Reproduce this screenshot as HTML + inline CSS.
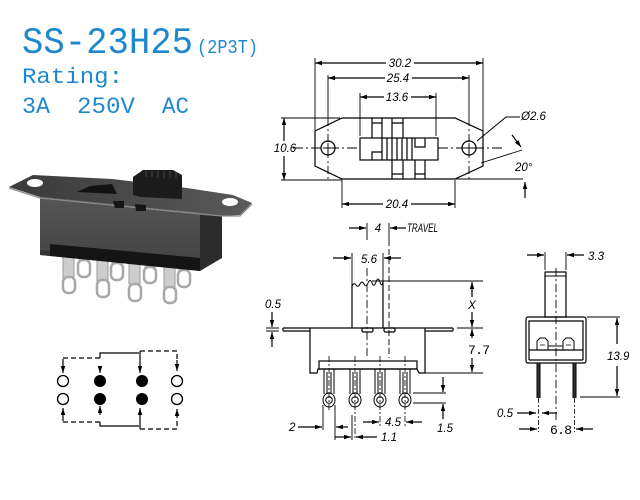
<!DOCTYPE html>
<html><head><meta charset="utf-8"><style>
html,body{margin:0;padding:0;background:#fff;}
svg{display:block;}
.d{font-family:"Liberation Sans",sans-serif;font-style:italic;font-size:11.5px;fill:#000;}
.m{font-family:"Liberation Mono",monospace;font-size:13px;fill:#000;}
.b{font-family:"Liberation Mono",monospace;fill:#1e88cf;}
</style></head><body>
<svg width="640" height="500" viewBox="0 0 640 500" xmlns="http://www.w3.org/2000/svg">
<defs>
<marker id="a" markerUnits="userSpaceOnUse" markerWidth="8" markerHeight="5" refX="7" refY="2.25" orient="auto-start-reverse"><path d="M0,0 L7,2.25 L0,4.5 z" fill="#000"/></marker>
<linearGradient id="gp" x1="0" y1="0" x2="1" y2="0"><stop offset="0" stop-color="#3a3a3a"/><stop offset="1" stop-color="#5a5a5a"/></linearGradient>
<linearGradient id="gf" x1="0" y1="0" x2="0" y2="1"><stop offset="0" stop-color="#555"/><stop offset="1" stop-color="#424242"/></linearGradient>
</defs>
<rect width="640" height="500" fill="#fff"/>

<!-- Title -->
<text class="b" x="22" y="53" font-size="37" textLength="171" lengthAdjust="spacingAndGlyphs">SS-23H25</text>
<text class="b" x="197" y="53" font-size="19" textLength="61" lengthAdjust="spacingAndGlyphs">(2P3T)</text>
<text class="b" x="22" y="83" font-size="22" textLength="101" lengthAdjust="spacingAndGlyphs">Rating:</text>
<text class="b" x="22" y="113" font-size="23" textLength="28" lengthAdjust="spacingAndGlyphs">3A</text>
<text class="b" x="77" y="113" font-size="23" textLength="58" lengthAdjust="spacingAndGlyphs">250V</text>
<text class="b" x="162" y="113" font-size="23" textLength="27" lengthAdjust="spacingAndGlyphs">AC</text>

<!-- Photo -->
<g stroke="#9a9a9a" stroke-width="1">
 <rect x="79" y="254" width="10" height="8" fill="#c8c8c8"/>
 <rect x="78" y="260" width="12" height="17" rx="5" fill="#fff" stroke="#a8a8a8" stroke-width="2.5"/>
 <rect x="112" y="256" width="10" height="9" fill="#c8c8c8"/>
 <rect x="111" y="263" width="12" height="17" rx="5" fill="#fff" stroke="#a8a8a8" stroke-width="2.5"/>
 <rect x="145" y="259" width="10" height="9" fill="#c8c8c8"/>
 <rect x="144" y="267" width="12" height="16" rx="5" fill="#fff" stroke="#a8a8a8" stroke-width="2.5"/>
 <rect x="179" y="262" width="10" height="10" fill="#c8c8c8"/>
 <rect x="178" y="270" width="12" height="17" rx="5" fill="#fff" stroke="#a8a8a8" stroke-width="2.5"/>
 <rect x="63" y="252" width="11" height="26" fill="#cdcdcd"/>
 <rect x="63" y="277" width="12" height="16" rx="5" fill="#fff" stroke="#a8a8a8" stroke-width="2.5"/>
 <rect x="97" y="256" width="11" height="25" fill="#cdcdcd"/>
 <rect x="97" y="280" width="12" height="17" rx="5" fill="#fff" stroke="#a8a8a8" stroke-width="2.5"/>
 <rect x="129" y="259" width="11" height="25" fill="#cdcdcd"/>
 <rect x="129" y="284" width="12" height="17" rx="5" fill="#fff" stroke="#a8a8a8" stroke-width="2.5"/>
 <rect x="164" y="262" width="11" height="26" fill="#cdcdcd"/>
 <rect x="164" y="287" width="12" height="16" rx="5" fill="#fff" stroke="#a8a8a8" stroke-width="2.5"/>
</g>
<polygon points="200,213 222,216 222,258 200,271" fill="#2c2c2c"/>
<polygon points="40,197 200,213 200,271 40,255" fill="url(#gf)"/>
<polygon points="50,244 200,258 200,271 50,256" fill="#141414"/>
<polygon points="40,250 50,251 50,256 40,255" fill="#333"/>
<polygon points="9,187 33,175 112,179 187,188 233,195 252,203 240,215 222,216 200,213 40,197" fill="url(#gp)"/>
<polyline points="9,188 40,198 200,214 222,216 240,216 252,204" fill="none" stroke="#8c8c8c" stroke-width="1.2"/>
<ellipse cx="35" cy="183" rx="8" ry="4" fill="#fff"/>
<ellipse cx="230" cy="202" rx="8" ry="4" fill="#fff"/>
<polygon points="77,192 90,186 112,184 117,194" fill="#121212"/>
<polygon points="113,201 124,201 124,208 115,208" fill="#151515"/>
<polygon points="135,204 146,205 146,211 136,211" fill="#151515"/>
<polygon points="133,177 143,170 173,170 182,175 182,199 140,197 133,195" fill="#1c1c1c"/>
<g stroke="#444" stroke-width="1">
 <line x1="146" y1="171" x2="146" y2="177"/><line x1="152" y1="171" x2="152" y2="177"/>
 <line x1="158" y1="171" x2="158" y2="178"/><line x1="164" y1="171" x2="164" y2="178"/>
 <line x1="170" y1="171" x2="170" y2="178"/><line x1="176" y1="172" x2="176" y2="179"/>
</g>

<!-- Schematic -->
<g stroke="#000" stroke-width="1.3" fill="none">
 <circle cx="63" cy="381" r="5.5"/><circle cx="63" cy="399" r="5.5"/>
 <circle cx="177" cy="381" r="5.5"/><circle cx="177" cy="399" r="5.5"/>
</g>
<g fill="#000">
 <circle cx="100" cy="381" r="6"/><circle cx="100" cy="399" r="6"/>
 <circle cx="142" cy="381" r="6"/><circle cx="142" cy="399" r="6"/>
</g>
<g stroke="#000" stroke-width="1.2" fill="none">
 <path d="M63,358 H100" stroke-dasharray="5,3"/>
 <path d="M100,358 V353 H139"/>
 <path d="M140,351 H177 V360" stroke-dasharray="5,3"/>
 <path d="M63,359 V373" marker-end="url(#a)"/>
 <path d="M140,351 V373" marker-end="url(#a)"/>
 <path d="M177,360 V371" marker-end="url(#a)"/>
 <path d="M100,366 V373" marker-end="url(#a)"/>
 <path d="M63,422 H100" stroke-dasharray="5,3"/>
 <path d="M100,422 V426 H139"/>
 <path d="M140,429 H177 V418" stroke-dasharray="5,3"/>
 <path d="M63,421 V408" marker-end="url(#a)"/>
 <path d="M140,429 V408" marker-end="url(#a)"/>
 <path d="M177,418 V409" marker-end="url(#a)"/>
 <path d="M100,415 V406" marker-end="url(#a)"/>
</g>

<!-- Top view -->
<g stroke="#000" stroke-width="1.2" fill="none">
 <path d="M342,118 H455 L483,131 V166 L455,179 H342 L315,166 V131 Z"/>
 <circle cx="328" cy="148" r="7"/><circle cx="469" cy="148" r="7"/>
 <path d="M328,143 V153 M323,148 H333 M469,143 V153 M464,148 H474" stroke-width="0.9"/>
 <path d="M293,148 H360 M438,148 H503" stroke-dasharray="10,3,2,3" stroke-width="0.9"/>
 <path d="M328,75 V118 M469,75 V118 M315,58 V130 M483,58 V131 M360,93 V136 M436,93 V136" stroke-width="0.9"/>
 <path d="M328,118 V182 M469,118 V182" stroke-dasharray="8,3,2,3" stroke-width="0.9"/>
 <path d="M315,63 H386" marker-start="url(#a)"/><path d="M414,63 H483" marker-end="url(#a)"/>
 <path d="M328,78 H385" marker-start="url(#a)"/><path d="M412,78 H469" marker-end="url(#a)"/>
 <path d="M360,97 H384" marker-start="url(#a)"/><path d="M411,97 H436" marker-end="url(#a)"/>
 <path d="M281,118 H340 M281,180 H342" stroke-width="0.9"/>
 <path d="M284,118 V141" marker-start="url(#a)"/><path d="M284,156 V180" marker-end="url(#a)"/>
 <path d="M342,180 V208 M455,180 V208" stroke-width="0.9"/>
 <path d="M342,204 H383" marker-start="url(#a)"/><path d="M411,204 H455" marker-end="url(#a)"/>
 <rect x="360" y="138" width="78" height="22"/>
 <path d="M382,138 V160 M387,138 V160 M392,138 V160 M397,138 V160 M402,138 V160 M407,138 V160 M412,138 V160"/>
 <path d="M372,160 V152 H382 M415,138 V147 H425 V138"/>
 <path d="M372,138 V118 M382,138 V118 M392,138 V118 M403,138 V118 M372,123 H382 M392,123 H403"/>
 <path d="M392,160 V179 M403,160 V179 M415,160 V179 M425,160 V179 M392,174 H403 M415,174 H425"/>
 <path d="M477,141 L506,117 H520" stroke-width="1"/>
 <path d="M455,179 H523 M481,163 L522,150" stroke-width="0.9"/>
 <path d="M512,135 L521,147" marker-end="url(#a)"/>
 <path d="M525,198 V182" marker-end="url(#a)"/>
</g>
<text class="d" x="400" y="67" text-anchor="middle">30.2</text>
<text class="d" x="398" y="82" text-anchor="middle">25.4</text>
<text class="d" x="397" y="101" text-anchor="middle">13.6</text>
<text class="d" x="285" y="152" text-anchor="middle">10.6</text>
<text class="d" x="397" y="208" text-anchor="middle">20.4</text>
<text class="d" x="521" y="120">Ø2.6</text>
<text class="d" x="515" y="171">20°</text>

<!-- Side view -->
<g stroke="#000" stroke-width="1.2" fill="none">
 <path d="M283,328 H453 M283,331 H310 M425,331 H453 M283,328 V331 M453,328 V331"/>
 <path d="M310,328 V373 H317 L318,369 H417 L419,373 H425 V328"/>
 <rect x="319" y="361" width="98" height="8"/>
 <path d="M352,328 V285 M383,328 V283"/>
 <path d="M352,286 q2,-4 4,-1 t4,-1 t4,0 t4,-1 t4,0 t4,-1 t4,0 t3,-1" stroke-width="1"/>
 <rect x="362" y="328" width="11" height="4" rx="1.5"/>
 <rect x="384" y="328" width="11" height="4" rx="1.5"/>
 <path d="M367,268 V358" stroke-dasharray="8,3,2,3" stroke-width="0.9"/>
 <path d="M389,240 V358" stroke-dasharray="6,3" stroke-width="0.9"/>
 <path d="M367,223 V240 M389,223 V240" stroke-width="0.9"/>
 <path d="M349,228 H366" marker-end="url(#a)"/>
 <path d="M406,228 H390" marker-end="url(#a)"/>
 <path d="M352,253 V285 M383,253 V283" stroke-width="0.9"/>
 <path d="M333,258 H351" marker-end="url(#a)"/>
 <path d="M401,258 H384" marker-end="url(#a)"/>
 <path d="M372,281 H483 M457,328 H483 M425,373 H483" stroke-width="0.9"/>
 <path d="M472,297 V282" marker-end="url(#a)"/>
 <path d="M472,312 V327" marker-end="url(#a)"/>
 <path d="M472,338 V329" marker-end="url(#a)"/>
 <path d="M472,358 V372" marker-end="url(#a)"/>
 <path d="M266,328 H279 M266,331 H279" stroke-width="0.9"/>
 <path d="M272,312 V327" marker-end="url(#a)"/>
 <path d="M272,347 V332" marker-end="url(#a)"/>
 <g stroke-width="1">
  <path d="M324,369 V394 M334,369 V394 M327,372 V394 M331,372 V394"/>
  <ellipse cx="329" cy="400" rx="6" ry="7"/><circle cx="329" cy="400" r="3.3"/>
  <path d="M350,369 V394 M360,369 V394 M353,372 V394 M357,372 V394"/>
  <ellipse cx="355" cy="400" rx="6" ry="7"/><circle cx="355" cy="400" r="3.3"/>
  <path d="M375,369 V394 M385,369 V394 M378,372 V394 M382,372 V394"/>
  <ellipse cx="380" cy="400" rx="6" ry="7"/><circle cx="380" cy="400" r="3.3"/>
  <path d="M400,369 V394 M410,369 V394 M403,372 V394 M407,372 V394"/>
  <ellipse cx="405" cy="400" rx="6" ry="7"/><circle cx="405" cy="400" r="3.3"/>
 </g>
 <path d="M329,356 V412 M355,356 V440 M380,356 V426 M405,356 V426" stroke-dasharray="6,2,2,2" stroke-width="0.8"/>
 <path d="M323,405 V430 M335,405 V440 M352,415 V440" stroke-width="0.9"/>
 <path d="M298,427 H322" marker-end="url(#a)"/>
 <path d="M348,427 H336" marker-end="url(#a)"/>
 <path d="M335,437 H351" marker-end="url(#a)"/>
 <path d="M377,437 H356" marker-end="url(#a)"/>
 <path d="M363,422 H379" marker-end="url(#a)"/>
 <path d="M422,422 H406" marker-end="url(#a)"/>
 <path d="M413,393 H446 M413,403 H446" stroke-width="0.9"/>
 <path d="M443,377 V392" marker-end="url(#a)"/>
 <path d="M443,419 V404" marker-end="url(#a)"/>
</g>
<text class="d" x="378" y="232" text-anchor="middle">4</text>
<text class="d" x="407" y="232" font-size="10" textLength="31" lengthAdjust="spacingAndGlyphs">TRAVEL</text>
<text class="d" x="369" y="263" text-anchor="middle">5.6</text>
<text class="d" x="472" y="309" text-anchor="middle">X</text>
<text class="m" x="468" y="354" textLength="22" lengthAdjust="spacing">7.7</text>
<text class="d" x="265" y="308">0.5</text>
<text class="d" x="289" y="431">2</text>
<text class="d" x="381" y="441">1.1</text>
<text class="d" x="385" y="426">4.5</text>
<text class="d" x="437" y="432">1.5</text>

<!-- Right view -->
<g stroke="#000" stroke-width="1.2" fill="none">
 <rect x="545" y="272" width="21" height="45"/>
 <path d="M545,276 H566" stroke-width="0.9"/>
 <path d="M556,268 V420" stroke-dasharray="8,3,2,3" stroke-width="0.9"/>
 <path d="M545,252 V270 M566,252 V270" stroke-width="0.9"/>
 <path d="M527,255 H544" marker-end="url(#a)"/>
 <path d="M584,255 H567" marker-end="url(#a)"/>
 <rect x="526" y="317" width="60" height="46" rx="2"/>
 <path d="M529,360 V321 H583 V360 M529,360 H583 M529,350 H583"/>
 <path d="M537,350 V341 l3,-3 h5 l3,3 V350 M563,350 V341 l3,-3 h5 l3,3 V350 M548,346 H563" stroke-width="1"/>
 <path d="M540,345 H545 M566,345 H571" stroke-width="0.8"/>
 <path d="M537,363 V398 M540,363 V398 M573,363 V398 M576,363 V398" stroke-width="1"/>
 <path d="M538.5,398 V432 M574.5,398 V432" stroke-dasharray="5,2,2,2" stroke-width="0.8"/>
 <path d="M587,317 H620 M580,397 H620" stroke-width="0.9"/>
 <path d="M617,344 V318" marker-end="url(#a)"/>
 <path d="M617,366 V396" marker-end="url(#a)"/>
 <path d="M517,413 H536" marker-end="url(#a)"/>
 <path d="M557,413 H542" marker-end="url(#a)"/>
 <path d="M519,429 H537" marker-end="url(#a)"/>
 <path d="M593,429 H576" marker-end="url(#a)"/>
</g>
<g fill="#333"><rect x="537.5" y="363" width="2" height="35"/><rect x="573.5" y="363" width="2" height="35"/></g>
<text class="d" x="588" y="260">3.3</text>
<text class="d" x="607" y="360">13.9</text>
<text class="d" x="497" y="417">0.5</text>
<text class="m" x="550" y="434" textLength="22" lengthAdjust="spacing">6.8</text>
</svg>
</body></html>
